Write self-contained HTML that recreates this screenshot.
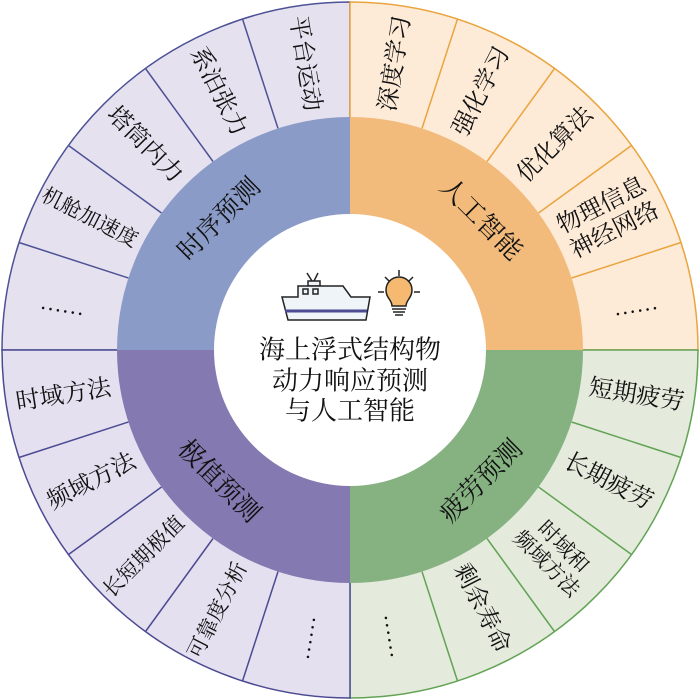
<!DOCTYPE html>
<html><head><meta charset="utf-8"><style>
html,body{margin:0;padding:0;background:#fff;}
svg{display:block;}
text{font-family:"Liberation Serif","Noto Serif CJK SC","Noto Sans CJK SC",serif;fill:#111;text-anchor:middle;dominant-baseline:central;}
.o{font-size:24px;}
.f{font-size:21px;}
.i{font-size:26px;}
.d{font-size:22px;letter-spacing:2px;}
</style></head><body>
<svg width="700" height="700" viewBox="0 0 700 700" xmlns="http://www.w3.org/2000/svg">
<path d="M350,350 L350,2 A348,348 0 0 0 2,350 Z" fill="#e6e1ef" stroke="#4d5296" stroke-width="1.5"/>
<path d="M350,350 L350,2 A348,348 0 0 1 698,350 Z" fill="#fdebd8" stroke="#eaa43f" stroke-width="1.5"/>
<path d="M350,350 L698,350 A348,348 0 0 1 350,698 Z" fill="#e4eadc" stroke="#62a354" stroke-width="1.5"/>
<path d="M350,350 L350,698 A348,348 0 0 1 2,350 Z" fill="#e4e0ef" stroke="#4b4a92" stroke-width="1.5"/>
<g stroke="#4d5296" stroke-width="1.5">
<line x1="278" y1="128.4" x2="242.5" y2="19"/><line x1="213" y1="161.5" x2="145.5" y2="68.5"/><line x1="161.5" y1="213" x2="68.5" y2="145.5"/><line x1="128.4" y1="278" x2="19" y2="242.5"/>
</g>
<g stroke="#eaa43f" stroke-width="1.5">
<line x1="422" y1="128.4" x2="457.5" y2="19"/><line x1="487" y1="161.5" x2="554.5" y2="68.5"/><line x1="538.5" y1="213" x2="631.5" y2="145.5"/><line x1="571.6" y1="278" x2="681" y2="242.5"/>
</g>
<g stroke="#62a354" stroke-width="1.5">
<line x1="571.6" y1="422" x2="681" y2="457.5"/><line x1="538.5" y1="487" x2="631.5" y2="554.5"/><line x1="487" y1="538.5" x2="554.5" y2="631.5"/><line x1="422" y1="571.6" x2="457.5" y2="681"/>
</g>
<g stroke="#4b4a92" stroke-width="1.5">
<line x1="128.4" y1="422" x2="19" y2="457.5"/><line x1="161.5" y1="487" x2="68.5" y2="554.5"/><line x1="213" y1="538.5" x2="145.5" y2="631.5"/><line x1="278" y1="571.6" x2="242.5" y2="681"/>
</g>
<path d="M350,350 L350,117 A233,233 0 0 0 117,350 Z" fill="#8b9bc8"/>
<path d="M350,350 L350,117 A233,233 0 0 1 583,350 Z" fill="#f2bb7c"/>
<path d="M350,350 L583,350 A233,233 0 0 1 350,583 Z" fill="#86b282"/>
<path d="M350,350 L350,583 A233,233 0 0 1 117,350 Z" fill="#8479b0"/>
<circle cx="350" cy="350" r="136" fill="#fff"/>
<text class="i" transform="translate(219,219) rotate(-45)">时序预测</text>
<text class="i" transform="translate(481,219) rotate(45)">人工智能</text>
<text class="i" transform="translate(481,481) rotate(-45)">疲劳预测</text>
<text class="i" transform="translate(219,481) rotate(45)">极值预测</text>
<text class="o" transform="translate(304.6,63.6) rotate(81)">平台运动</text>
<text class="o" transform="translate(218.3,91.6) rotate(63)">系泊张力</text>
<text class="o" transform="translate(144.9,144.9) rotate(45)">塔筒内力</text>
<text class="f" transform="translate(89.8,217.4) rotate(27)">机舱加速度</text>
<text class="d" transform="translate(63.6,304.6) rotate(9)">......</text>
<text class="o" transform="translate(395.4,63.6) rotate(-81)">深度学习</text>
<text class="o" transform="translate(481.7,91.6) rotate(-63)">强化学习</text>
<text class="o" transform="translate(555.1,144.9) rotate(-45)">优化算法</text>
<g transform="translate(608.3,218.3) rotate(-27)"><text class="o" y="-14">物理信息</text><text class="o" y="14">神经网络</text></g>
<text class="d" transform="translate(636.4,304.6) rotate(-9)">......</text>
<text class="o" transform="translate(636.4,395.4) rotate(9)">短期疲劳</text>
<text class="o" transform="translate(608.3,481.7) rotate(27)">长期疲劳</text>
<g transform="translate(555.1,555.1) rotate(45)"><text class="o" style="font-size:21px" y="-12">时域和</text><text class="o" style="font-size:21px" y="12">频域方法</text></g>
<text class="o" transform="translate(481.7,608.3) rotate(63)">剩余寿命</text>
<text class="d" transform="translate(395.4,636.4) rotate(81)">......</text>
<text class="o" transform="translate(63.6,395.4) rotate(-9)">时域方法</text>
<text class="o" transform="translate(91.6,481.7) rotate(-27)">频域方法</text>
<text class="f" transform="translate(143.5,556.5) rotate(-45)">长短期极值</text>
<text class="f" transform="translate(217.4,610.2) rotate(-63)">可靠度分析</text>
<text class="d" transform="translate(304.6,636.4) rotate(-81)">......</text>
<g stroke="#222" stroke-width="1.5" fill="#eef4f8">
<line x1="307" y1="273" x2="312" y2="281"/><line x1="318" y1="273" x2="314" y2="281"/>
<rect x="308" y="281" width="12" height="5"/>
<path d="M298,286 L343,286 L351,297 L370,297 L366,320 L288,320 L282,297 L298,297 Z"/>
<rect x="303" y="289" width="5" height="5"/><rect x="313" y="289" width="5" height="5"/>
</g>
<line x1="285" y1="311" x2="367" y2="311" stroke="#4b4a92" stroke-width="3"/>
<g stroke="#222" stroke-width="1.5">
<line x1="399" y1="270" x2="399" y2="276"/><line x1="385" y1="277" x2="389" y2="281"/><line x1="413" y1="277" x2="409" y2="281"/>
<line x1="378" y1="292" x2="384" y2="292"/><line x1="414" y1="292" x2="420" y2="292"/>
<path d="M392,306 C392,300 386,298 386,290 A13,13 0 0 1 412,290 C412,298 406,300 406,306 Z" fill="#f5b96f"/>
<line x1="392" y1="309" x2="406" y2="309"/><line x1="393" y1="312" x2="405" y2="312"/><line x1="395" y1="315" x2="403" y2="315"/>
</g>
<text style="font-size:26px" x="350" y="350">海上浮式结构物</text>
<text style="font-size:26px" x="350" y="381">动力响应预测</text>
<text style="font-size:26px" x="350" y="411">与人工智能</text>
</svg>
</body></html>
